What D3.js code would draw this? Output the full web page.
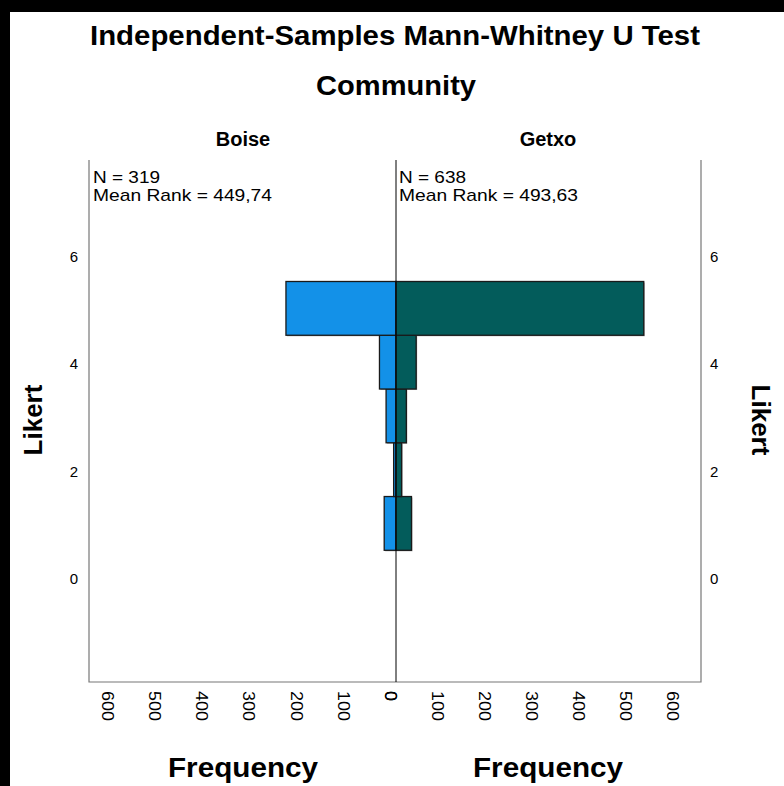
<!DOCTYPE html>
<html>
<head>
<meta charset="utf-8">
<script src="https://cdn.jsdelivr.net/npm/d3@7"></script>
<style>
    body { margin: 0; background: #fff; }
    text { font-family: "Liberation Sans", Arial, sans-serif; fill: #000; }
</style>
</head>
<body>
<div id="chart"></div>
<script>
// Likert value bins and frequencies
var likert = [1, 2, 3, 4, 5];
var boiseFreq = [25, 5, 21, 35, 233];
var getxoFreq = [33, 12, 22, 43, 528];

var groups = ["Boise", "Getxo"];
var groupN = [319, 638];
var meanRank = ["449,74", "493,63"];

var yTicks = [0, 2, 4, 6];
var xTicks = [0, 100, 200, 300, 400, 500, 600];

var w = 784;
var h = 786;
var plotLeft = 89, plotRight = 701, mid = 396;
var plotTop = 160, plotBottom = 682;

var svg = d3.select("#chart")
            .append("svg")
            .attr("width", w)
            .attr("height", h);

// black strips from the screenshot
svg.append("rect").attr("x", 0).attr("y", 0).attr("width", w).attr("height", 12).attr("fill", "#000");
svg.append("rect").attr("x", 0).attr("y", 0).attr("width", 10).attr("height", h).attr("fill", "#000");

var yscale = d3.scaleLinear()
                .domain([-1.95, 7.76])
                .range([plotBottom, plotTop]);

var xleft = d3.scaleLinear()
                .domain([0, 650])
                .range([mid, plotLeft]);

var xright = d3.scaleLinear()
                .domain([0, 650])
                .range([mid, plotRight]);

// titles
svg.append("text")
    .attr("x", 395).attr("y", 45)
    .attr("text-anchor", "middle")
    .attr("font-size", 27).attr("font-weight", "bold")
    .attr("textLength", 610).attr("lengthAdjust", "spacingAndGlyphs")
    .text("Independent-Samples Mann-Whitney U Test");

svg.append("text")
    .attr("x", 396).attr("y", 95)
    .attr("text-anchor", "middle")
    .attr("font-size", 27).attr("font-weight", "bold")
    .attr("textLength", 160).attr("lengthAdjust", "spacingAndGlyphs")
    .text("Community");

var panels = [
    {name: groups[0], n: groupN[0], rank: meanRank[0], data: boiseFreq, x: xleft, color: "#1391e8", cx: 243, tx: 93},
    {name: groups[1], n: groupN[1], rank: meanRank[1], data: getxoFreq, x: xright, color: "#035c5b", cx: 548, tx: 399}
];

panels.forEach(function(p) {
    svg.append("text")
        .attr("x", p.cx).attr("y", 146)
        .attr("text-anchor", "middle")
        .attr("font-size", 20).attr("font-weight", "bold")
        .text(p.name);

    svg.append("text")
        .attr("x", p.tx).attr("y", 183)
        .attr("font-size", 17)
        .attr("textLength", 67).attr("lengthAdjust", "spacingAndGlyphs")
        .text("N = " + p.n);

    svg.append("text")
        .attr("x", p.tx).attr("y", 201)
        .attr("font-size", 17)
        .attr("textLength", 179).attr("lengthAdjust", "spacingAndGlyphs")
        .text("Mean Rank = " + p.rank);

    var bars = svg.append("g");

    // faint shadow under each bar
    bars.selectAll("rect.shadow")
        .data(likert)
        .enter()
        .append("rect")
        .attr("class", "shadow")
        .attr("x", function(d, i) { return Math.min(p.x(0), p.x(p.data[i])) + 1; })
        .attr("y", function(d) { return yscale(d + 0.5) + 1; })
        .attr("width", function(d, i) { return Math.abs(p.x(p.data[i]) - p.x(0)); })
        .attr("height", function(d) { return yscale(d - 0.5) - yscale(d + 0.5); })
        .attr("fill", "#aaa");

    bars.selectAll("rect.bar")
        .data(likert)
        .enter()
        .append("rect")
        .attr("class", "bar")
        .attr("x", function(d, i) { return Math.min(p.x(0), p.x(p.data[i])); })
        .attr("y", function(d) { return yscale(d + 0.5); })
        .attr("width", function(d, i) { return Math.abs(p.x(p.data[i]) - p.x(0)); })
        .attr("height", function(d) { return yscale(d - 0.5) - yscale(d + 0.5); })
        .attr("fill", p.color)
        .attr("stroke", "#1a1a1a")
        .attr("stroke-width", 1.3);

    // rotated frequency tick labels
    svg.append("g")
        .selectAll("text")
        .data(xTicks)
        .enter()
        .append("text")
        .attr("transform", function(d) {
            return "translate(" + (p.x(d) - 11) + ",691) rotate(90)";
        })
        .attr("font-size", 17)
        .attr("textLength", function(d) { return d === 0 ? 10 : 30; })
        .attr("lengthAdjust", "spacingAndGlyphs")
        .text(function(d) { return d; });

    svg.append("text")
        .attr("x", p.cx).attr("y", 777)
        .attr("text-anchor", "middle")
        .attr("font-size", 27).attr("font-weight", "bold")
        .attr("textLength", 150).attr("lengthAdjust", "spacingAndGlyphs")
        .text("Frequency");
});

// frame
svg.append("path")
    .attr("d", "M" + plotLeft + "," + plotTop + "V" + plotBottom + "H" + plotRight + "V" + plotTop)
    .attr("fill", "none")
    .attr("stroke", "#777")
    .attr("stroke-width", 1.2);

svg.append("line")
    .attr("x1", mid).attr("x2", mid)
    .attr("y1", plotTop).attr("y2", plotBottom)
    .attr("stroke", "#000")
    .attr("stroke-width", 1);

// y tick labels on both sides
svg.append("g")
    .selectAll("text")
    .data(yTicks)
    .enter()
    .append("text")
    .attr("x", 78)
    .attr("y", function(d) { return yscale(d) + 7; })
    .attr("text-anchor", "end")
    .attr("font-size", 15)
    .attr("fill", "#222")
    .text(function(d) { return d; });

svg.append("g")
    .selectAll("text")
    .data(yTicks)
    .enter()
    .append("text")
    .attr("x", 710)
    .attr("y", function(d) { return yscale(d) + 7; })
    .attr("font-size", 15)
    .attr("fill", "#222")
    .text(function(d) { return d; });

svg.append("text")
    .attr("transform", "translate(42,420) rotate(-90)")
    .attr("text-anchor", "middle")
    .attr("font-size", 26).attr("font-weight", "bold")
    .text("Likert");

svg.append("text")
    .attr("transform", "translate(752,420) rotate(90)")
    .attr("text-anchor", "middle")
    .attr("font-size", 26).attr("font-weight", "bold")
    .text("Likert");
</script>
</body>
</html>
